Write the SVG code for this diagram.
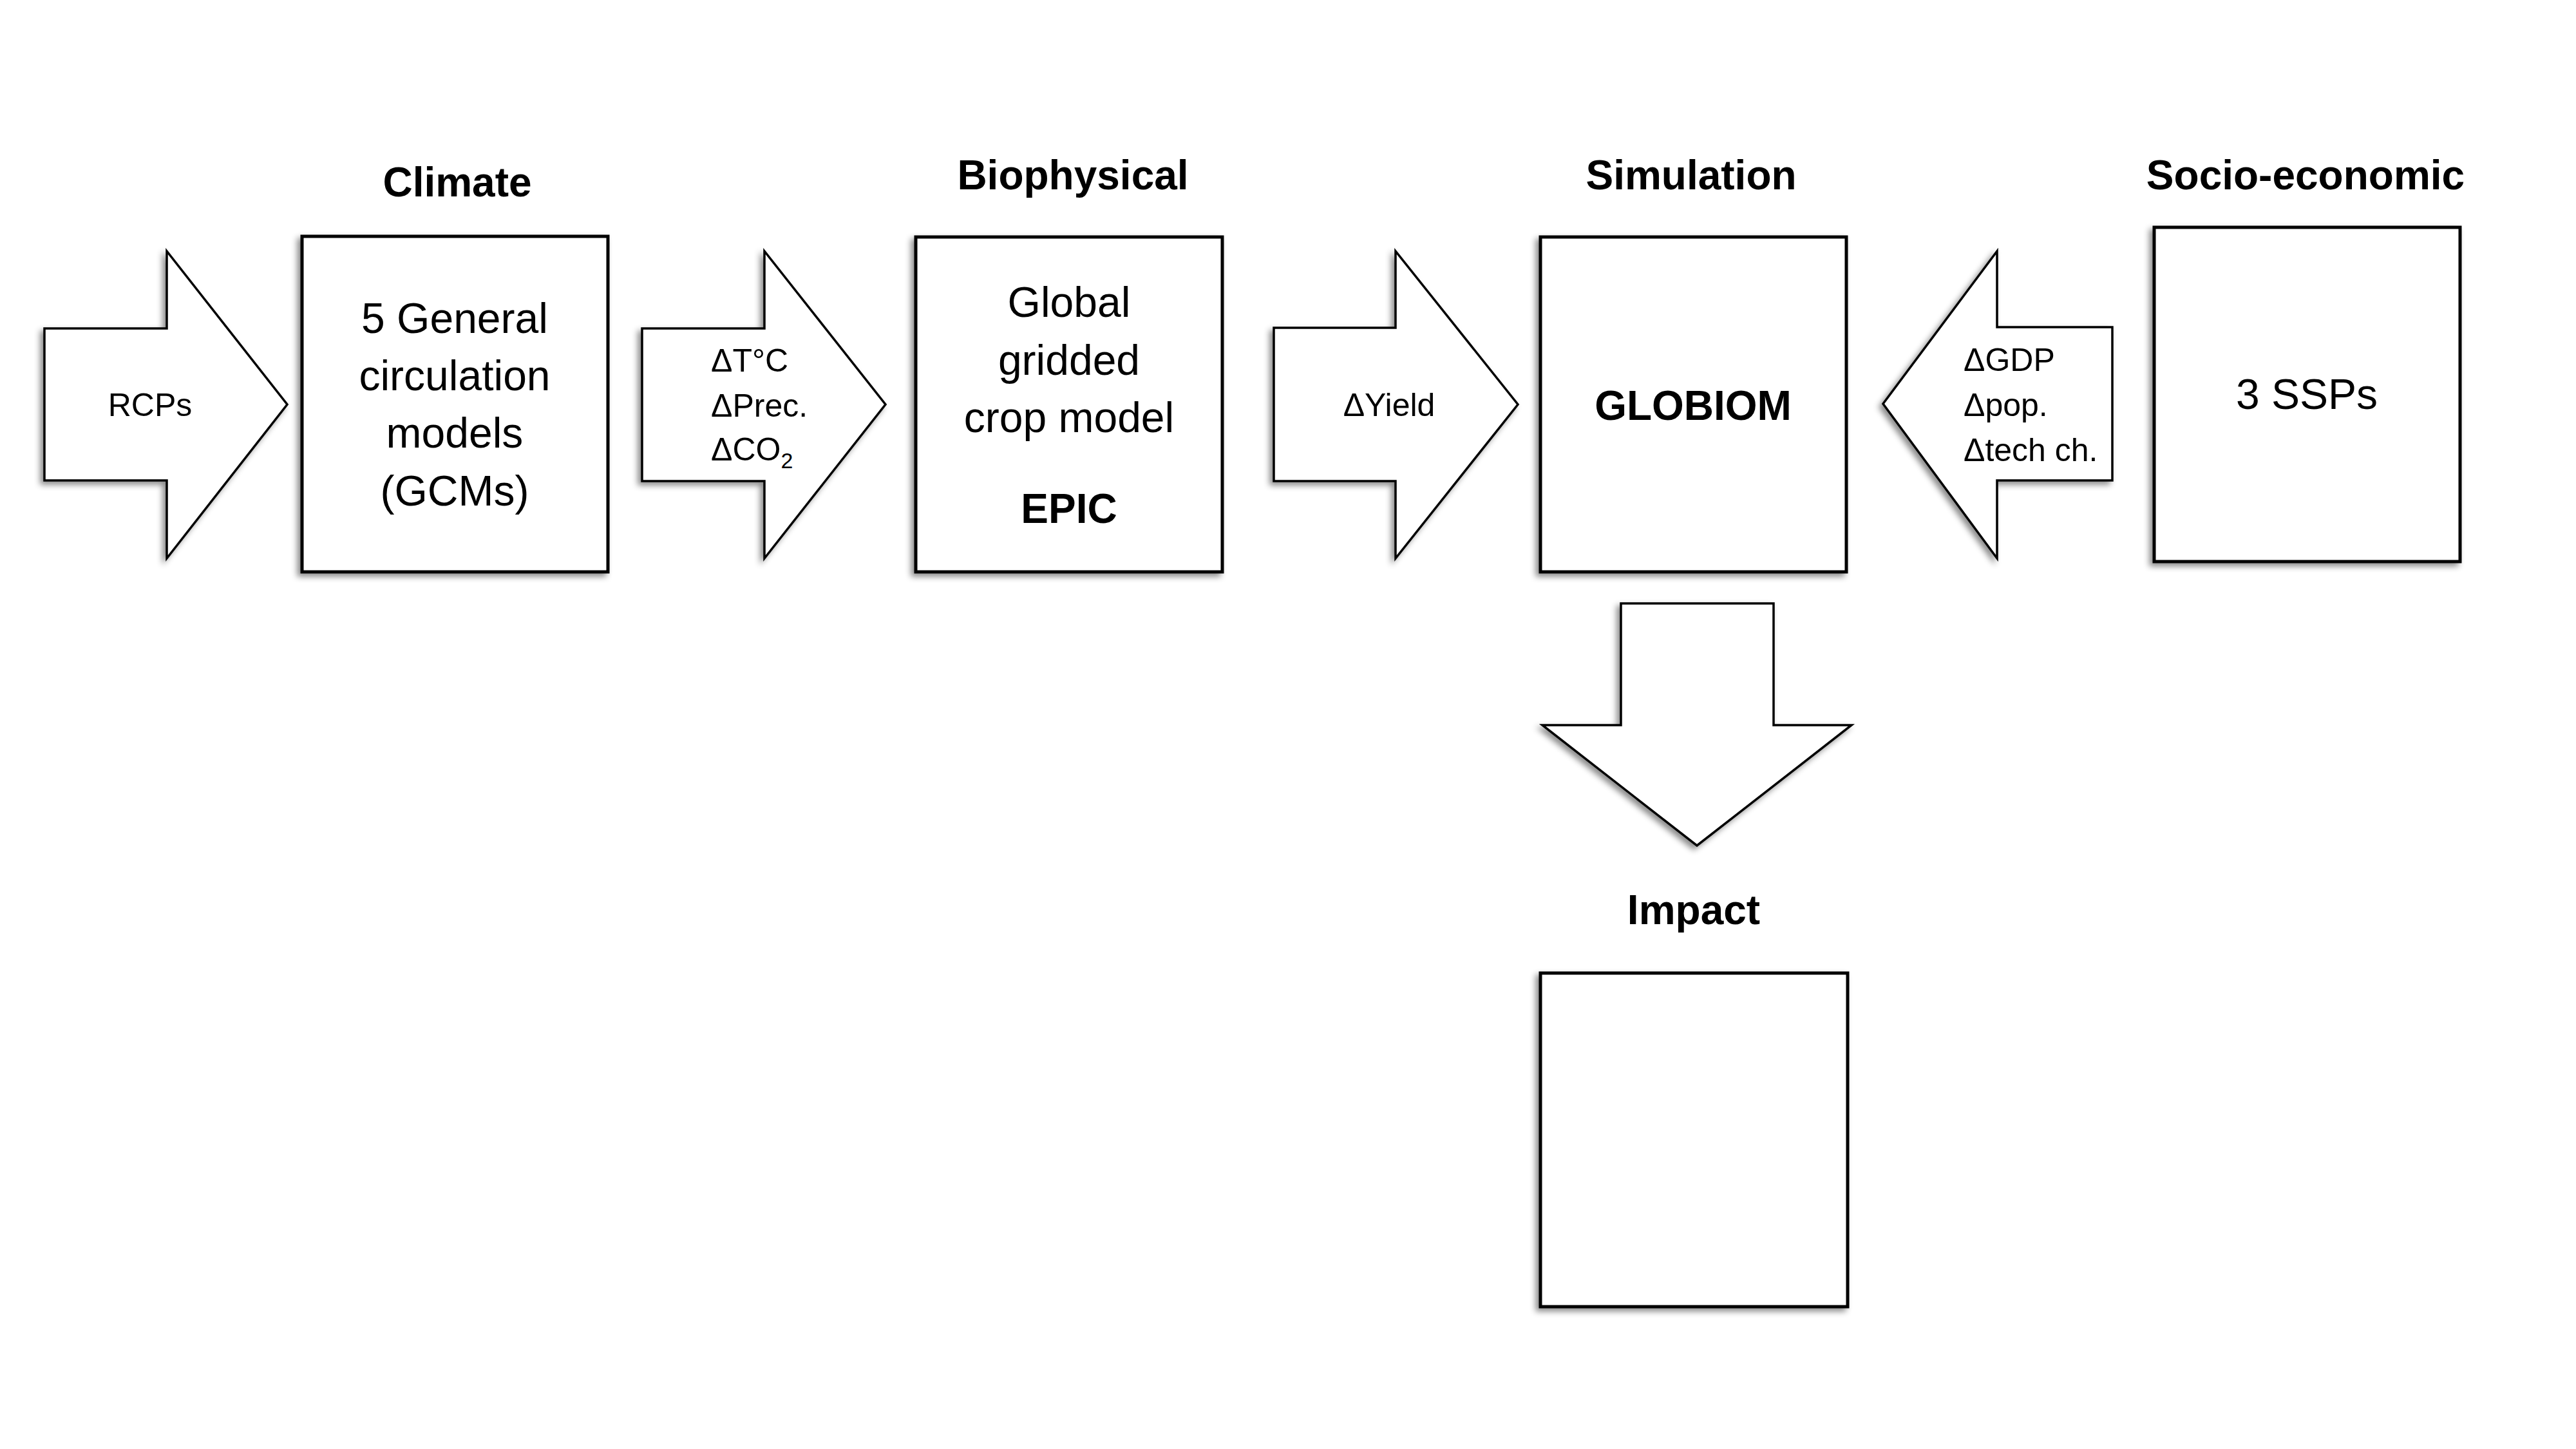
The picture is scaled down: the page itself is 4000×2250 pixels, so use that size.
<svg xmlns="http://www.w3.org/2000/svg" width="4000" height="2250" viewBox="0 0 4000 2250">
<defs>
<filter id="sh" x="-10%" y="-10%" width="120%" height="120%">
<feDropShadow dx="-5" dy="5" stdDeviation="5" flood-color="#000" flood-opacity="0.45"/>
</filter>
<style>
.box{fill:#fff;stroke:#000;stroke-width:5;filter:url(#sh)}
.arr{fill:#fff;stroke:#000;stroke-width:3.5;stroke-linejoin:miter;filter:url(#sh)}
text{font-family:"Liberation Sans",Arial,sans-serif;fill:#000}
.title{font-size:64px;font-weight:bold;text-anchor:middle}
.body{font-size:66px;text-anchor:middle}
.bold{font-size:64px;font-weight:bold;text-anchor:middle}
.lab{font-size:50px}
.labm{font-size:50px;text-anchor:middle}
</style>
</defs>
<rect width="4000" height="2250" fill="#fff"/>
<g id="connectors">
<g id="arrow-rcps">
<polygon class="arr" points="69,510 259,510 259,390 446,628 259,867 259,746 69,746"/>
<text class="labm" x="233" y="646">RCPs</text>
</g>
<g id="arrow-climate">
<polygon class="arr" points="997,510 1187,510 1187,390 1375,628 1187,867 1187,747 997,747"/>
<text class="lab" x="1104" y="577">ΔT°C</text>
<text class="lab" x="1104" y="647">ΔPrec.</text>
<text class="lab" x="1104" y="715">ΔCO<tspan font-size="34" dy="12">2</tspan></text>
</g>
<g id="arrow-yield">
<polygon class="arr" points="1978,509 2167,509 2167,390 2357,628 2167,867 2167,747 1978,747"/>
<text class="labm" x="2157" y="646">ΔYield</text>
</g>
<g id="arrow-socio">
<polygon class="arr" points="3280,508 3101,508 3101,390 2924,627 3101,867 3101,746 3280,746"/>
<text class="lab" x="3049" y="576">ΔGDP</text>
<text class="lab" x="3049" y="646">Δpop.</text>
<text class="lab" x="3049" y="716">Δtech ch.</text>
</g>
<g id="arrow-impact">
<polygon class="arr" points="2517,937 2754,937 2754,1126 2875,1126 2635,1313 2395,1126 2517,1126"/>
</g>
</g>
<g id="climate">
<text class="title" x="710" y="305">Climate</text>
<rect class="box" x="469" y="367" width="475" height="521"/>
<text class="body" x="706" y="517">5 General</text>
<text class="body" x="706" y="606">circulation</text>
<text class="body" x="706" y="695">models</text>
<text class="body" x="706" y="785">(GCMs)</text>
</g>
<g id="biophysical">
<text class="title" x="1666" y="294">Biophysical</text>
<rect class="box" x="1422" y="368" width="476" height="520"/>
<text class="body" x="1660" y="492">Global</text>
<text class="body" x="1660" y="582">gridded</text>
<text class="body" x="1660" y="671">crop model</text>
<text class="bold" x="1660" y="812">EPIC</text>
</g>
<g id="simulation">
<text class="title" x="2626" y="294">Simulation</text>
<rect class="box" x="2392" y="368" width="475" height="520"/>
<text class="bold" x="2629" y="652">GLOBIOM</text>
</g>
<g id="socio-economic">
<text class="title" x="3580" y="294">Socio-economic</text>
<rect class="box" x="3345" y="353" width="475" height="519"/>
<text class="body" x="3582" y="635">3 SSPs</text>
</g>
<g id="impact">
<text class="title" x="2630" y="1435">Impact</text>
<rect class="box" x="2392" y="1511" width="477" height="518"/>
</g>
</svg>
